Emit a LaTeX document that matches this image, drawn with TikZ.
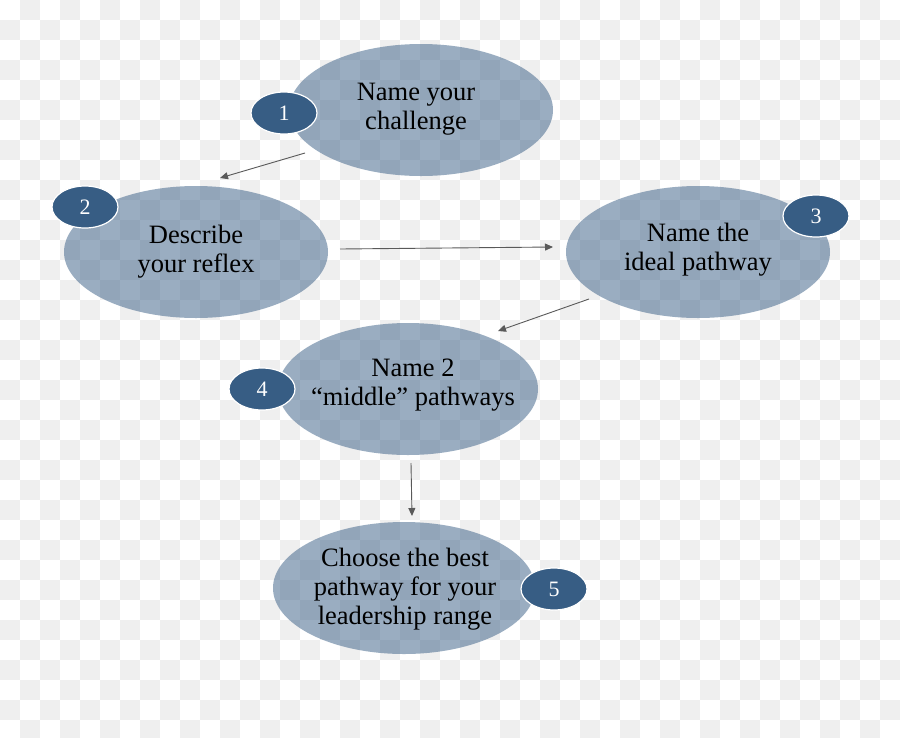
\documentclass[tikz,border=0pt]{standalone}
\usepackage{fontspec}
\setmainfont{Liberation Serif}
\usetikzlibrary{shapes.geometric,arrows.meta,calc}
\definecolor{bub}{RGB}{55,93,132}
\definecolor{chk}{RGB}{239,239,239}
\begin{document}
\begin{tikzpicture}[x=1pt,y=-1pt,
 big/.style={ellipse,fill=bub,fill opacity=0.5,text opacity=1,minimum width=264pt,minimum height=132pt,inner sep=0pt,align=center,font=\fontsize{26.5}{29}\selectfont,text=black},
 num/.style={ellipse,fill=bub,draw=white,line width=1.2pt,minimum width=66pt,minimum height=42pt,inner sep=0pt,text=white,font=\fontsize{22}{24}\selectfont},
 arr/.style={draw=black!65,line width=0.9pt,-{Triangle[length=8pt,width=7pt]}}]
\useasboundingbox (0,0) rectangle (900,737);
\begin{scope}
\clip (0,0) rectangle (900,737);
\fill[white] (0,0) rectangle (900,737);
\foreach \i in {0,...,44}{\foreach \j in {0,...,36}{\pgfmathparse{int(mod(\i+\j,2))}\ifnum\pgfmathresult=1 \fill[chk] (\i*20,\j*20) rectangle ++(20,20);\fi}}
\end{scope}
\node[big] (e1) at (421,110) {};
\node[big] (e2) at (196,252) {};
\node[big] (e3) at (698,252) {};
\node[big,minimum width=260pt] (e4) at (408,389) {};
\node[big,minimum width=262pt] (e5) at (404,588) {};
\node[align=center,font=\fontsize{26.5}{29}\selectfont] (t1) at ($(e1)+(-5,-1)$) {Name your\\challenge};
\node[align=center,font=\fontsize{26.5}{29}\selectfont] (t2) at (e2) {Describe\\your reflex};
\node[align=center,font=\fontsize{26.5}{29}\selectfont] (t3) at ($(e3)+(0,-2)$) {Name the\\ideal pathway};
\node[align=center,font=\fontsize{26.5}{29}\selectfont] (t4) at ($(e4)+(5,-4)$) {Name 2\\“middle” pathways};
\node[align=center,font=\fontsize{26.5}{29}\selectfont] (t5) at ($(e5)+(1,1)$) {Choose the best\\pathway for your\\leadership range};
\node[num] (n1) at (284,113) {1};
\node[num] (n2) at (85,207) {2};
\node[num] (n3) at (816,216) {3};
\node[num] (n4) at (262,389) {4};
\node[num] (n5) at (554,589) {5};
\draw[arr] ($(e1)+(-116,43)$) -- ($(e2)+(24,-74)$);
\draw[arr] ($(e2)+(144,-3)$) -- ($(e3)+(-145,-5)$);
\draw[arr] ($(e3)+(-109,47)$) -- ($(e4)+(90,-58)$);
\draw[arr] ($(e4)+(3,74)$) -- ($(e5)+(8,-72)$);
\end{tikzpicture}
\end{document}
